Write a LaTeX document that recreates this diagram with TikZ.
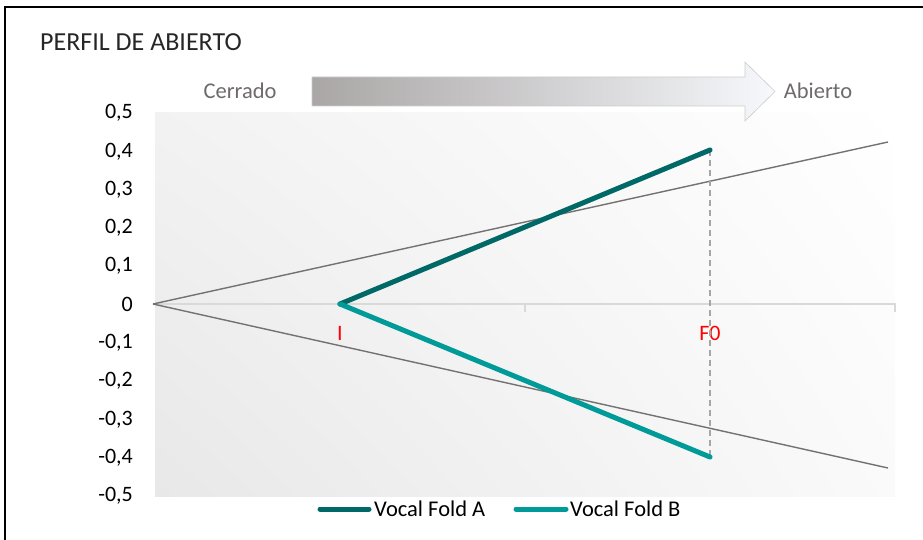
\documentclass[tikz,border=0pt]{standalone}
\usepackage{fontspec}
\setmainfont{Carlito}
\usetikzlibrary{shadings}
\definecolor{foldA}{RGB}{0,104,102}
\definecolor{foldB}{RGB}{0,154,152}
\definecolor{guide}{RGB}{118,113,113}
\definecolor{axisgray}{RGB}{217,217,217}
\definecolor{dropgray}{RGB}{166,166,166}
\definecolor{arrowdark}{RGB}{170,166,166}
\definecolor{arrowlight}{RGB}{246,248,251}
\definecolor{labelgray}{RGB}{110,106,106}
\tikzset{
  ylab/.style={anchor=east, font=\fontsize{22}{24}\selectfont, text=black, inner sep=0pt},
  catlab/.style={anchor=center, font=\fontsize{22}{24}\selectfont, text=red, inner sep=0pt},
  sidelab/.style={font=\fontsize{22.5}{25}\selectfont, text=labelgray, inner sep=0pt},
  leglab/.style={anchor=west, font=\fontsize{22.5}{25}\selectfont, text=black, inner sep=0pt},
  guideline/.style={guide, line width=1.4pt},
  foldline/.style={line width=5pt, line cap=round},
  frame/.style={black, line width=2pt}
}
\begin{document}
\begin{tikzpicture}[x=1pt,y=-1pt]
\useasboundingbox (0,0) rectangle (923,540);
% frame
\draw[frame] (5,540) -- (5,7) -- (923,7);
% title
\node[anchor=west, font=\fontsize{26}{28}\selectfont, text=black!85, inner sep=0pt] (title) at (40,42) {PERFIL DE ABIERTO};
% plot area
\shade[upper left=black!5, lower left=black!9, upper right=white, lower right=black!2] (155,113) rectangle (895,496);
% arrow
\shade[left color=arrowdark, right color=arrowlight, draw=black!20, line width=0.6pt]
  (312,77) -- (745,77) -- (745,62) -- (775,91.5) -- (745,121) -- (745,106) -- (312,106) -- cycle;
\node[sidelab] (cerrado) at (240,91) {Cerrado};
\node[sidelab] (abierto) at (818,91) {Abierto};
% y labels
\foreach \v/\t in {0/0{,}5,1/0{,}4,2/0{,}3,3/0{,}2,4/0{,}1,5/0,6/-0{,}1,7/-0{,}2,8/-0{,}3,9/-0{,}4,10/-0{,}5}
  \node[ylab] (y\v) at (133,{113+\v*38.3}) {\t};
% x axis
\coordinate (ax0) at (155,304);
\coordinate (ax1) at (895,304);
\coordinate (tk1) at (525,304);
\coordinate (tk1b) at (525,312);
\coordinate (tk2b) at (895,312);
\draw[axisgray, line width=1.5pt] (ax0) -- (ax1) -- (tk2b);
\draw[axisgray, line width=1.5pt] (tk1) -- (tk1b);
% category labels
\node[catlab] (catI) at (340,333) {I};
\node[catlab] (catF) at (710,333) {F0};
% guide lines
\coordinate (apex) at (153,304);
\coordinate (gup) at (888,142);
\coordinate (gdn) at (888,468);
\draw[guideline] (apex) -- (gup);
\draw[guideline] (apex) -- (gdn);
% data points
\coordinate (pI) at (340,304);
\coordinate (pA) at (710,150);
\coordinate (pB) at (710,457);
\draw[dropgray, line width=1.4pt, dash pattern=on 6pt off 4pt] (pA) -- (pB);
\draw[foldline, foldA] (pI) -- (pA);
\draw[foldline, foldB] (pI) -- (pB);
% legend
\coordinate (la0) at (320,509);
\coordinate (la1) at (369,509);
\coordinate (lb0) at (516,509);
\coordinate (lb1) at (566,509);
\draw[foldline, foldA] (la0) -- (la1);
\draw[foldline, foldB] (lb0) -- (lb1);
\node[leglab] (legA) at (374,509) {Vocal Fold A};
\node[leglab] (legB) at (570,509) {Vocal Fold B};
\end{tikzpicture}
\end{document}
